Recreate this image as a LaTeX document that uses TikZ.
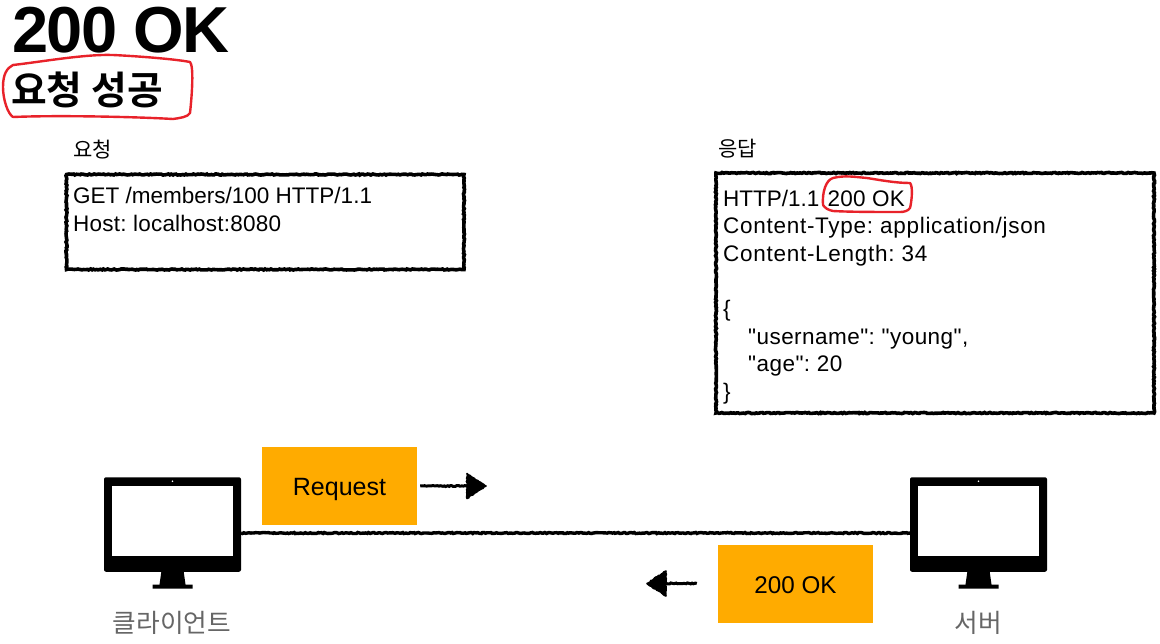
\documentclass[tikz,border=0pt]{standalone}
\usepackage{fontspec}
\setmainfont[Ligatures=TeXOff]{Liberation Sans}
\newfontfamily\kr{Noto Sans CJK KR}
\newfontfamily\krb{Noto Sans CJK KR Bold}
\newfontfamily\titlefont[LetterSpace=-2.5]{Liberation Sans Bold}
\newcommand{\widera}{\addfontfeature{LetterSpace=1}}
\newcommand{\widerb}{\addfontfeature{LetterSpace=3.2}}
\newcommand{\widerc}{\addfontfeature{LetterSpace=2}}
\usetikzlibrary{decorations.pathmorphing}
\definecolor{boxorange}{HTML}{FFAB00}
\definecolor{markred}{HTML}{E8222A}
\definecolor{labelgrey}{HTML}{666666}
\tikzset{
  x=1pt,y=-1pt,
  rough/.style={decorate,decoration={random steps,segment length=1.6pt,amplitude=.55pt},draw=black,line width=#1},
  rough/.default=3.6pt,
  msgbox/.style={rectangle,rough,anchor=north west,inner sep=0pt,outer sep=0pt},
  bodytext/.style={anchor=north west,inner sep=0pt,align=left,font=\frenchspacing\fontsize{22.5}{27.6}\selectfont},
  tagbox/.style={rectangle,fill=boxorange,minimum width=155pt,minimum height=78pt,inner sep=0pt,text depth=0pt,font=\fontsize{24.2}{28}\selectfont},
  redmark/.style={draw=markred,line width=2.4pt,line cap=round,line join=round},
  heading/.style={anchor=west,inner sep=0pt,font=\kr\fontsize{21}{24}\selectfont},
  devicelabel/.style={inner sep=0pt,text=labelgrey,font=\kr\fontsize{25.7}{28}\selectfont},
  pics/monitor/.style={code={
    \node[rectangle,fill=black,rounded corners=2pt,minimum width=137pt,minimum height=94.5pt,inner sep=0pt,outer sep=0pt] (-body) at (0,0) {};
    \fill[white] (-60.7,-38.5) rectangle (60.7,31.2);
    \fill[white] (0,-43.3) circle (.9pt);
    \fill[black] (-11,46) -- (11,46) -- (13,60) -- (20,60) -- (20,64) -- (-20,64) -- (-20,60) -- (-13,60) -- cycle;
  }}
}
\begin{document}
\begin{tikzpicture}
\path[use as bounding box] (0,0) rectangle (1160,643);
% titles
\node[anchor=base west,inner sep=0pt,font=\titlefont\fontsize{65}{70}\selectfont] (title) at (12,52) {200 OK};
\node[anchor=west,inner sep=0pt,font=\krb\fontsize{38.8}{42}\selectfont] (subtitle) at (11,90) {요청 성공};
\draw[redmark] (13,117) .. controls (8,114) and (3,100) .. (3,87)
  .. controls (3,74) and (7,68) .. (13,65)
  .. controls (40,62) and (85,54) .. (113,55)
  .. controls (135,56) and (175,59) .. (190,62)
  .. controls (194,66) and (192,95) .. (190,113)
  .. controls (188,117) and (180,118) .. (173,119)
  .. controls (140,117) and (60,115) .. (13,117);
% message boxes
\node[heading] (reqhead) at (73,150) {요청};
\node[msgbox,minimum width=397.5pt,minimum height=95pt] (reqbox) at (66.5,174.5) {};
\node[bodytext] (reqtext) at (73,187) {GET /members/100 HTTP/1.1\\{\widera Host: localhost:8080}};
\node[heading] (resphead) at (718,149) {응답};
\node[msgbox,minimum width=438pt,minimum height=240pt] (respbox) at (716,173) {};
\node[bodytext] (resptext) at (723,189.5) {HTTP/1.1\hspace{2pt} {\widera 200 OK}\\{\widerb Content-Type: application/json}\\{\widerb Content-Length: 34}\\\mbox{}\\\{\\\hspace*{25pt}{\widerc "username": "young",}\\\hspace*{25pt}{\widerc "age": 20}\\\}};
\draw[redmark] (823,205) .. controls (822,192) and (826,180) .. (833,178)
  .. controls (845,175) and (855,177) .. (867,178)
  .. controls (880,180) and (895,183) .. (910,183)
  .. controls (913,186) and (912,200) .. (910,208)
  .. controls (908,211) and (904,212) .. (900,212)
  .. controls (880,212) and (850,212) .. (833,211)
  .. controls (828,210) and (825,208) .. (823,205);
% devices
\pic (client) at (172.5,524.5) {monitor};
\pic (server) at (978.5,524.5) {monitor};
\node[devicelabel] (clientlabel) at (172,623) {클라이언트};
\node[devicelabel] (serverlabel) at (978,623) {서버};
\draw[rough=3.4pt] (client-body.east |- 0,533) -- (server-body.west |- 0,533);
% messages
\node[tagbox,text height=19pt,font=\fontsize{25}{28}\selectfont] (req) at (339.5,486) {Request};
\node[tagbox,text height=20pt] (ok) at (795.5,583.5) {200 OK};
\coordinate (reqbase) at (467,486);
\coordinate (reqtip) at (486,486);
\coordinate (okbase) at (666,583.5);
\coordinate (oktip) at (647,583.5);
\draw[rough=3pt] ([xshift=3pt]req.east) -- (reqbase);
\draw[rough=3pt] ([xshift=-21pt]ok.west) -- (okbase);
\filldraw[rough=1.6pt,fill=black,line join=round] (reqtip) -- ([yshift=12.5pt]reqbase) -- ([yshift=-12.5pt]reqbase) -- cycle;
\filldraw[rough=1.6pt,fill=black,line join=round] (oktip) -- ([yshift=12.5pt]okbase) -- ([yshift=-12.5pt]okbase) -- cycle;
\end{tikzpicture}
\end{document}
